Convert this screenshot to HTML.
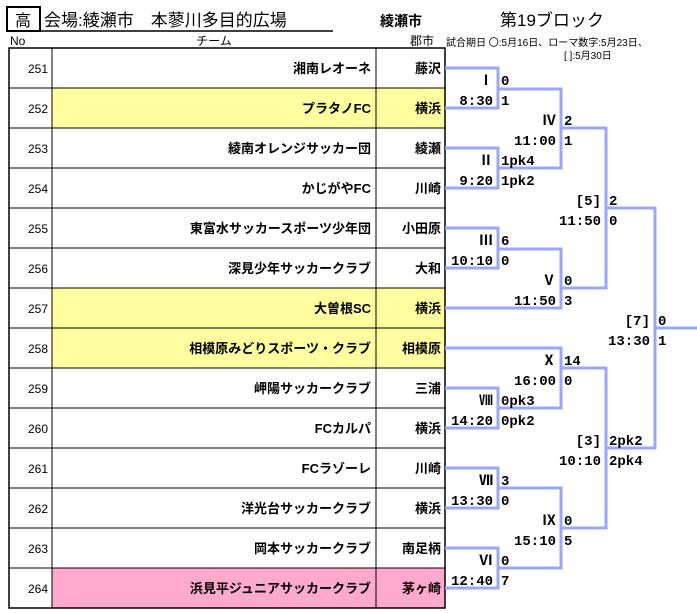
<!DOCTYPE html>
<html><head><meta charset="utf-8"><style>
body{margin:0;background:#fff;}
svg{display:block;font-family:"Liberation Sans","Noto Sans CJK JP",sans-serif;}
.t{font-size:13px;font-weight:bold;text-anchor:end;}
.n{font-size:12px;text-anchor:end;}
.b{font-family:"Liberation Mono","Noto Sans CJK JP",monospace;font-size:14px;font-weight:bold;}
.r{text-anchor:end;}
</style></head><body>
<svg width="697" height="613" viewBox="0 0 697 613">
<rect x="7" y="7" width="33" height="24" fill="none" stroke="#000" stroke-width="2"/>
<text x="23" y="26" font-size="16" text-anchor="middle">高</text>
<text x="44" y="26" font-size="17">会場:綾瀬市　本蓼川多目的広場</text>
<text x="380" y="26" font-size="14" font-weight="bold">綾瀬市</text>
<line x1="40" y1="31" x2="333" y2="31" stroke="#000" stroke-width="1.5"/>
<text x="500" y="26" font-size="17">第19ブロック</text>
<text x="10" y="45" font-size="12">No</text>
<text x="214" y="45" font-size="12" text-anchor="middle">チーム</text>
<text x="422" y="45" font-size="12" text-anchor="middle">郡市</text>
<text x="446" y="46" font-size="10">試合期日 〇:5月16日、ローマ数字:5月23日、</text>
<text x="564" y="59" font-size="10">[ ]:5月30日</text>
<g>
<rect x="52" y="88" width="393" height="40" fill="#ffffa0"/>
<rect x="52" y="288" width="393" height="40" fill="#ffffa0"/>
<rect x="52" y="328" width="393" height="40" fill="#ffffa0"/>
<rect x="52" y="568" width="393" height="40" fill="#ffaacc"/>
<rect x="9" y="48" width="436" height="560" fill="none" stroke="#000" stroke-width="1.5"/>
<line x1="52" y1="48" x2="52" y2="608" stroke="#000"/>
<line x1="376" y1="48" x2="376" y2="608" stroke="#000"/>
<g stroke="#000">
<line x1="9" y1="88" x2="445" y2="88"/><line x1="9" y1="128" x2="445" y2="128"/>
<line x1="9" y1="168" x2="445" y2="168"/><line x1="9" y1="208" x2="445" y2="208"/>
<line x1="9" y1="248" x2="445" y2="248"/><line x1="9" y1="288" x2="445" y2="288"/>
<line x1="9" y1="328" x2="445" y2="328"/><line x1="9" y1="368" x2="445" y2="368"/>
<line x1="9" y1="408" x2="445" y2="408"/><line x1="9" y1="448" x2="445" y2="448"/>
<line x1="9" y1="488" x2="445" y2="488"/><line x1="9" y1="528" x2="445" y2="528"/>
<line x1="9" y1="568" x2="445" y2="568"/>
</g>
</g>
<g class="n">
<text x="48" y="73">251</text><text x="48" y="113">252</text><text x="48" y="153">253</text><text x="48" y="193">254</text>
<text x="48" y="233">255</text><text x="48" y="273">256</text><text x="48" y="313">257</text><text x="48" y="353">258</text>
<text x="48" y="393">259</text><text x="48" y="433">260</text><text x="48" y="473">261</text><text x="48" y="513">262</text>
<text x="48" y="553">263</text><text x="48" y="593">264</text>
</g>
<g class="t">
<text x="371" y="73">湘南レオーネ</text><text x="441" y="73">藤沢</text>
<text x="371" y="113">プラタノFC</text><text x="441" y="113">横浜</text>
<text x="371" y="153">綾南オレンジサッカー団</text><text x="441" y="153">綾瀬</text>
<text x="371" y="193">かじがやFC</text><text x="441" y="193">川崎</text>
<text x="371" y="233">東富水サッカースポーツ少年団</text><text x="441" y="233">小田原</text>
<text x="371" y="273">深見少年サッカークラブ</text><text x="441" y="273">大和</text>
<text x="371" y="313">大曽根SC</text><text x="441" y="313">横浜</text>
<text x="371" y="353">相模原みどりスポーツ・クラブ</text><text x="441" y="353">相模原</text>
<text x="371" y="393">岬陽サッカークラブ</text><text x="441" y="393">三浦</text>
<text x="371" y="433">FCカルパ</text><text x="441" y="433">横浜</text>
<text x="371" y="473">FCラゾーレ</text><text x="441" y="473">川崎</text>
<text x="371" y="513">洋光台サッカークラブ</text><text x="441" y="513">横浜</text>
<text x="371" y="553">岡本サッカークラブ</text><text x="441" y="553">南足柄</text>
<text x="371" y="593">浜見平ジュニアサッカークラブ</text><text x="441" y="593">茅ヶ崎</text>
</g>
<g fill="none" stroke="#99a8ff" stroke-width="3">
<polyline points="445,68 498,68 498,108 445,108"/>
<polyline points="445,148 498,148 498,188 445,188"/>
<polyline points="445,228 498,228 498,268 445,268"/>
<polyline points="445,388 498,388 498,428 445,428"/>
<polyline points="445,468 498,468 498,508 445,508"/>
<polyline points="445,548 498,548 498,588 445,588"/>
<polyline points="498,89 561,89 561,168 498,168"/>
<polyline points="498,249 561,249 561,308 445,308"/>
<polyline points="445,348 561,348 561,408 498,408"/>
<polyline points="498,488 561,488 561,568 498,568"/>
<polyline points="561,128 606,128 606,288 561,288"/>
<polyline points="561,368 606,368 606,528 561,528"/>
<polyline points="606,208 655,208 655,448 606,448"/>
<line x1="655" y1="328" x2="697" y2="328"/>
</g>
<g class="b">
<g class="r">
<text x="493" y="85">Ⅰ</text><text x="493" y="105">8:30</text>
<text x="493" y="165">Ⅱ</text><text x="493" y="185">9:20</text>
<text x="493" y="245">Ⅲ</text><text x="493" y="265">10:10</text>
<text x="493" y="405">Ⅷ</text><text x="493" y="425">14:20</text>
<text x="493" y="485">Ⅶ</text><text x="493" y="505">13:30</text>
<text x="493" y="565">Ⅵ</text><text x="493" y="585">12:40</text>
<text x="556" y="125">Ⅳ</text><text x="556" y="145">11:00</text>
<text x="556" y="285">Ⅴ</text><text x="556" y="305">11:50</text>
<text x="556" y="365">Ⅹ</text><text x="556" y="385">16:00</text>
<text x="556" y="525">Ⅸ</text><text x="556" y="545">15:10</text>
<text x="601" y="205">[5]</text><text x="601" y="225">11:50</text>
<text x="601" y="445">[3]</text><text x="601" y="465">10:10</text>
<text x="650" y="325">[7]</text><text x="650" y="345">13:30</text>
</g>
<text x="501" y="85">0</text><text x="501" y="105">1</text>
<text x="501" y="165">1pk4</text><text x="501" y="185">1pk2</text>
<text x="501" y="245">6</text><text x="501" y="265">0</text>
<text x="501" y="405">0pk3</text><text x="501" y="425">0pk2</text>
<text x="501" y="485">3</text><text x="501" y="505">0</text>
<text x="501" y="565">0</text><text x="501" y="585">7</text>
<text x="564" y="125">2</text><text x="564" y="145">1</text>
<text x="564" y="285">0</text><text x="564" y="305">3</text>
<text x="564" y="365">14</text><text x="564" y="385">0</text>
<text x="564" y="525">0</text><text x="564" y="545">5</text>
<text x="609" y="205">2</text><text x="609" y="225">0</text>
<text x="609" y="445">2pk2</text><text x="609" y="465">2pk4</text>
<text x="658" y="325">0</text><text x="658" y="345">1</text>
</g>
</svg>
</body></html>
